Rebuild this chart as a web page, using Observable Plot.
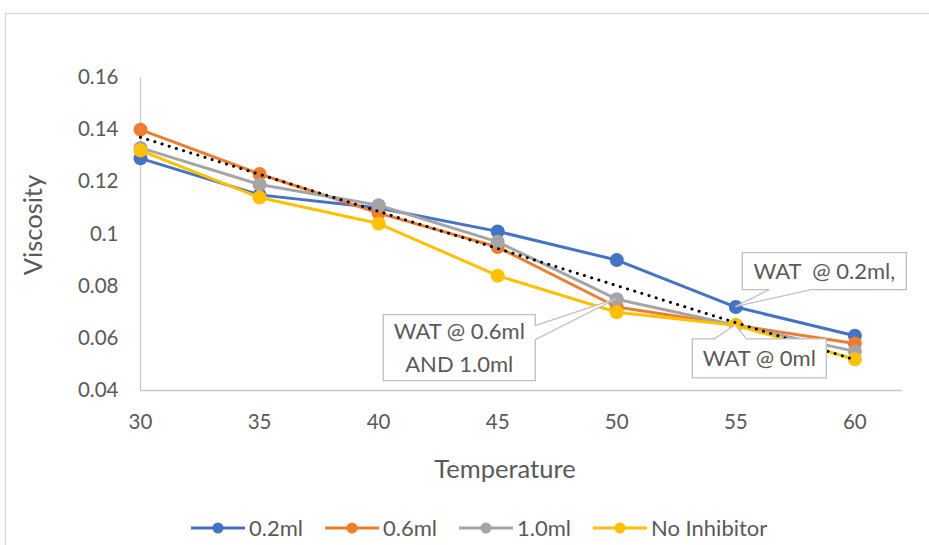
<!DOCTYPE html>
<html>
<head>
<meta charset="utf-8">
<script src="https://cdn.jsdelivr.net/npm/d3@7"></script>
<script src="https://cdn.jsdelivr.net/npm/@observablehq/plot@0.6"></script>
<style>
  html, body { margin: 0; padding: 0; background: #fff; }
  #chart svg { display: block; }
</style>
</head>
<body>
<div id="chart"></div>
<script>
// ---- data ----
const temps = [30, 35, 40, 45, 50, 55, 60];
const v02 = [0.129, 0.115, 0.110, 0.101, 0.090, 0.072, 0.061];
const v06 = [0.140, 0.123, 0.108, 0.095, 0.072, 0.065, 0.058];
const v10 = [0.133, 0.119, 0.111, 0.097, 0.075, 0.065, 0.055];
const vNone = [0.132, 0.114, 0.104, 0.084, 0.070, 0.065, 0.052];
const seriesNames = ["0.2ml", "0.6ml", "1.0ml", "No Inhibitor"];
const xTicks = [30, 35, 40, 45, 50, 55, 60];
const yTicks = [0.04, 0.06, 0.08, 0.10, 0.12, 0.14, 0.16];
const xTitle = "Temperature";
const yTitle = "Viscosity";
const calloutTexts = ["WAT  @ 0.2ml,", "WAT @ 0ml", "WAT @ 0.6ml\nAND 1.0ml"];
const calloutSeries = [0, 3, 2];
const calloutIndex = [5, 5, 4];

// ---- styling ----
const FONT = "Lato, 'Open Sans', sans-serif";
const TEXT = "#595959";
const colors = ["#4472C4", "#ED7D31", "#A5A5A5", "#FFC000"];
const allValues = [v02, v06, v10, vNone];
const rows = [];
allValues.forEach((vals, s) => vals.forEach((v, i) => rows.push({series: seriesNames[s], s, x: temps[i], y: v})));
const orangeRows = rows.filter(d => d.s === 1);

const lineMarks = [];
seriesNames.forEach((name, s) => {
  const data = rows.filter(d => d.s === s);
  lineMarks.push(Plot.line(data, {x: "x", y: "y", stroke: colors[s], strokeWidth: 3, strokeLinejoin: "round"}));
  lineMarks.push(Plot.dot(data, {x: "x", y: "y", fill: colors[s], r: 7}));
});

const plot = Plot.plot({
  width: 929,
  height: 545,
  marginLeft: 140,
  marginRight: 27,
  marginTop: 77,
  marginBottom: 155,
  style: {fontFamily: FONT, fontSize: "20.5px", color: TEXT, background: "#fff"},
  x: {domain: [30, 62], ticks: xTicks, tickSize: 0, tickPadding: 24, label: null, tickFormat: d => String(d)},
  y: {domain: [0.04, 0.16], ticks: yTicks, tickSize: 0, tickPadding: 22, label: null, tickFormat: d => String(+d.toFixed(2))},
  marks: [
    Plot.ruleY([0.04], {stroke: "#C8C8C8", strokeWidth: 1.3}),
    Plot.ruleX([30], {y1: 0.04, y2: 0.16, stroke: "#C8C8C8", strokeWidth: 1.3}),
    ...lineMarks,
    Plot.linearRegressionY(orangeRows, {x: "x", y: "y", ci: 0, stroke: "#000", strokeWidth: 3, strokeDasharray: "0.1 7.4", strokeLinecap: "round"})
  ]
});

document.getElementById("chart").appendChild(plot);

const svg = d3.select(plot);
const sx = plot.scale("x"), sy = plot.scale("y");

// outer chart border
svg.insert("rect", ":first-child")
  .attr("x", 5.5).attr("y", 13.5).attr("width", 940).attr("height", 560)
  .attr("fill", "none").attr("stroke", "#D9D9D9").attr("stroke-width", 1.3);

// axis titles
svg.append("text").attr("x", 505).attr("y", 469).attr("dy", "0.35em")
  .attr("text-anchor", "middle").attr("font-family", FONT).attr("font-size", 25.5)
  .attr("fill", TEXT).text(xTitle);
svg.append("text").attr("transform", "translate(33,225) rotate(-90)").attr("dy", "0.35em")
  .attr("text-anchor", "middle").attr("font-family", FONT).attr("font-size", 25.5)
  .attr("fill", TEXT).text(yTitle);

// callouts (layout relative to the anchored data point)
const calloutLayout = [
  {dx: 7, dy: -54, w: 164, h: 37, side: "bottom", b1: 34, b2: 76},
  {dx: -43, dy: 14, w: 134, h: 39, side: "top", b1: -21, b2: 11},
  {dx: -233, dy: 16, w: 152, h: 66, side: "right", b1: 27, b2: 41}
];
calloutTexts.forEach((txt, k) => {
  const s = calloutSeries[k], i = calloutIndex[k];
  const px = sx.apply(temps[i]), py = sy.apply(allValues[s][i]);
  const L = calloutLayout[k];
  const l = px + L.dx, t = py + L.dy, r = l + L.w, b = t + L.h;
  let p;
  if (L.side === "bottom") {
    p = `M${l},${t}H${r}V${b}H${px + L.b2}L${px},${py}L${px + L.b1},${b}H${l}Z`;
  } else if (L.side === "top") {
    p = `M${l},${t}H${px + L.b1}L${px},${py}L${px + L.b2},${t}H${r}V${b}H${l}Z`;
  } else {
    p = `M${l},${t}H${r}V${py + L.b1}L${px},${py}L${r},${py + L.b2}V${b}H${l}Z`;
  }
  svg.append("path").attr("d", p).attr("fill", "#fff").attr("stroke", "#BFBFBF").attr("stroke-width", 1.3);
  const lines = txt.split("\n");
  const lh = 33;
  const cy = (t + b) / 2;
  lines.forEach((ln, j) => {
    svg.append("text")
      .attr("x", (l + r) / 2)
      .attr("y", cy + (j - (lines.length - 1) / 2) * lh)
      .attr("dy", "0.35em")
      .attr("text-anchor", "middle")
      .attr("font-family", FONT)
      .attr("font-size", 22)
      .attr("fill", TEXT)
      .style("white-space", "pre")
      .text(ln);
  });
});

// legend
const legendCenters = [218, 352, 486, 620];
const legendY = 528;
seriesNames.forEach((name, s) => {
  const cx = legendCenters[s];
  const g = svg.append("g");
  g.append("line").attr("x1", cx - 27).attr("x2", cx + 27).attr("y1", legendY).attr("y2", legendY)
    .attr("stroke", colors[s]).attr("stroke-width", 3);
  g.append("circle").attr("cx", cx).attr("cy", legendY).attr("r", 5.5).attr("fill", colors[s]);
  g.append("text").attr("x", cx + 31).attr("y", legendY).attr("dy", "0.35em")
    .attr("text-anchor", "start")
    .attr("font-family", "'Liberation Sans Narrow', Lato, sans-serif")
    .attr("font-size", 22).attr("fill", TEXT).text(name);
});
</script>
</body>
</html>
